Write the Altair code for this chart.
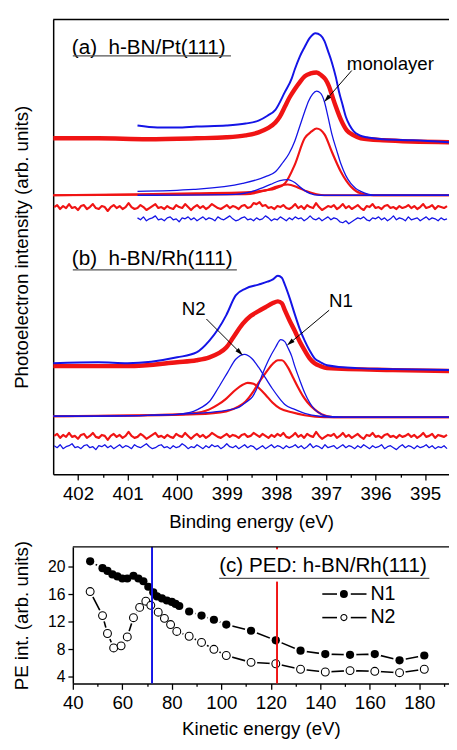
import altair as alt
import pandas as pd

FONT = "Liberation Sans"
RED = "#f01414"
BLUE = "#1414e6"

# ================= (a) h-BN/Pt(111) : binding energy (eV) / intensity (arb.) =================
a_blue_raw_be = [400.80, 400.40, 400.00, 399.61, 399.01, 398.62, 398.36, 398.18, 398.02, 397.83,
                 397.69, 397.63, 397.53, 397.43, 397.33, 397.21, 397.11, 397.03, 396.96, 396.88,
                 396.80, 396.74, 396.66, 396.60, 396.52, 396.44, 396.32, 396.18, 395.85, 395.25, 394.52]
a_blue_raw_i = [355, 353, 353, 354, 355, 357, 360, 365, 371, 389,
                403, 412, 425, 435, 444, 449, 447, 441, 431, 419,
                404, 390, 375, 364, 355, 349, 345, 343, 341, 340, 338]

a_red_raw_be = [402.50, 401.59, 400.60, 399.61, 399.01, 398.62, 398.36, 398.18, 398.02, 397.93,
                397.83, 397.73, 397.63, 397.53, 397.43, 397.31, 397.19, 397.09, 397.01, 396.94,
                396.88, 396.80, 396.70, 396.58, 396.44, 396.30, 395.85, 394.52]
a_red_raw_i = [342, 342, 341, 342, 343, 345, 348, 352, 358, 364,
               374, 384, 392, 399, 405, 408, 409, 406, 402, 395,
               386, 374, 361, 350, 345, 342, 340, 338]

a_fit_blue_main_be = [400.80, 399.67, 398.68, 398.22, 398.02, 397.89, 397.75, 397.63, 397.53, 397.43,
                      397.35, 397.27, 397.19, 397.11, 397.03, 396.96, 396.88, 396.78, 396.70, 396.60,
                      396.50, 396.40, 396.30, 396.14, 395.95, 394.52]
a_fit_blue_main_i = [288, 290, 296, 303, 308, 316, 326, 339, 354, 369,
                     380, 387, 390, 388, 379, 364, 346, 329, 316, 304,
                     296, 291, 288, 285, 284, 284]

a_fit_blue_small_be = [400.80, 398.82, 398.42, 398.12, 397.93, 397.77, 397.63, 397.49, 397.33, 397.13, 394.52]
a_fit_blue_small_i = [284, 285, 289, 295, 299, 300, 297, 291, 286, 284, 284]

a_fit_red_main_be = [402.50, 400.80, 399.61, 398.62, 398.22, 398.02, 397.83, 397.63, 397.43, 397.29,
                     397.19, 397.03, 396.88, 396.70, 396.50, 396.30, 396.04, 394.52]
a_fit_red_main_i = [284, 285, 286, 287, 289, 291, 296, 315, 342, 349,
                    352, 346, 328, 308, 293, 286, 284, 284]

a_fit_red_small_be = [402.50, 398.62, 398.22, 397.97, 397.77, 397.57, 397.39, 397.19, 397.03, 394.52]
a_fit_red_small_i = [284, 285, 289, 293, 295, 292, 288, 285, 284, 284]

# residuals: sampled every 0.06 eV from the given start energy
RES_STEP = 0.06
a_res_red_start = 402.48
a_res_red_i = [272, 274, 270, 273, 271, 275, 271, 272, 269, 273, 274, 270, 272, 275, 271, 270, 273, 272, 268, 272,
               274, 271, 273, 270, 272, 276, 272, 270, 271, 274, 272, 269, 271, 273, 275, 271, 272, 270, 273, 271,
               270, 274, 272, 271, 275, 272, 269, 272, 274, 271, 273, 270, 272, 275, 273, 271, 270, 272, 274, 271,
               273, 272, 270, 273, 274, 271, 272, 276, 275, 277, 273, 274, 271, 272, 270, 273, 272, 274, 271, 270,
               272, 275, 271, 273, 270, 274, 272, 271, 276, 272, 269, 271, 273, 272, 274, 270, 272, 275, 271, 273,
               270, 272, 274, 271, 269, 273, 272, 275, 271, 272, 270, 273, 274, 271, 272, 270, 273, 271, 272, 274,
               271, 273, 270, 272, 275, 271, 272, 274, 270, 273, 272, 271, 273]
a_res_blue_start = 400.80
a_res_blue_i = [261, 259, 262, 258, 260, 261, 263, 259, 260, 258, 261, 262, 259, 260, 257, 261, 260, 262, 259, 261,
                258, 260, 262, 259, 261, 260, 258, 262, 260, 259, 261, 263, 260, 258, 259, 261, 262, 259, 260, 258,
                261, 259, 260, 263, 261, 258, 260, 259, 262, 260, 258, 261, 259, 262, 260, 261, 258, 260, 263, 260,
                259, 261, 258, 260, 262, 259, 261, 260, 257, 256, 258, 255, 257, 259, 261, 260, 262, 259, 258, 261,
                260, 262, 259, 261, 258, 260, 263, 259, 261, 260, 258, 262, 259, 260, 261, 258, 260, 262, 259, 261,
                260, 258, 261, 259, 260]

# ================= (b) h-BN/Rh(111) =================
b_blue_raw_be = [402.50, 401.59, 401.00, 400.00, 399.61, 399.35, 399.17, 399.01, 398.82, 398.62,
                 398.36, 398.18, 398.08, 397.97, 397.89, 397.83, 397.73, 397.63, 397.53, 397.43,
                 397.33, 397.23, 397.11, 396.98, 396.38, 395.65, 394.52]
b_blue_raw_i = [113, 114, 113, 119, 124, 136, 148, 162, 182, 189,
                193, 196, 198, 202, 200, 193, 179, 163, 148, 136,
                126, 118, 114, 111, 108, 107, 106]

b_red_raw_be = [402.50, 401.00, 400.00, 399.61, 399.35, 399.17, 399.01, 398.86, 398.68, 398.52,
                398.36, 398.22, 398.08, 397.97, 397.89, 397.83, 397.73, 397.63, 397.53, 397.43,
                397.33, 397.23, 397.11, 396.98, 395.65, 394.52]
b_red_raw_i = [110, 110, 114, 116, 119, 123, 129, 140, 153, 161,
               166, 170, 174, 176, 174, 167, 156, 146, 135, 126,
               118, 113, 110, 108, 106, 105]

b_fit_blue_n2_be = [402.50, 400.60, 400.00, 399.67, 399.51, 399.35, 399.17, 398.98, 398.82, 398.64,
                    398.50, 398.36, 398.22, 398.08, 397.95, 397.83, 397.63, 397.43, 397.13, 396.74, 394.52]
b_fit_blue_n2_i = [59, 60, 61, 64, 68, 74, 88, 104, 117, 122,
                   118, 109, 98, 87, 78, 71, 66, 62, 59, 58, 58]

b_fit_blue_n1_be = [402.50, 400.60, 399.61, 399.01, 398.76, 398.62, 398.48, 398.36, 398.28, 398.16,
                    398.02, 397.91, 397.83, 397.77, 397.69, 397.63, 397.53, 397.43, 397.33, 397.23,
                    397.09, 396.98, 396.64, 394.52]
b_fit_blue_n1_i = [59, 60, 62, 65, 68, 73, 79, 91, 102, 116,
                   129, 137, 135, 129, 120, 110, 96, 83, 73, 66,
                   61, 59, 58, 58]

b_fit_red_n2_be = [402.50, 400.60, 399.71, 399.35, 399.17, 399.01, 398.82, 398.68, 398.58, 398.46,
                   398.36, 398.22, 398.08, 397.93, 397.69, 397.43, 397.03, 394.52]
b_fit_red_n2_i = [59, 60, 62, 66, 71, 77, 86, 91, 93, 92,
                  88, 81, 73, 67, 63, 60, 58, 58]

b_fit_red_n1_be = [402.50, 400.60, 399.61, 399.01, 398.76, 398.62, 398.48, 398.36, 398.22, 398.08,
                   397.97, 397.89, 397.77, 397.67, 397.57, 397.47, 397.37, 397.23, 397.09, 396.84, 394.52]
b_fit_red_n1_i = [59, 60, 61, 64, 69, 74, 83, 93, 103, 112,
                  116, 116, 109, 99, 89, 80, 73, 66, 61, 58, 58]

b_res_red_start = 402.48
b_res_red_i = [39, 41, 37, 40, 38, 42, 38, 39, 36, 40, 41, 37, 39, 42, 38, 37, 40, 39, 35, 39,
               41, 38, 40, 37, 39, 43, 39, 37, 38, 41, 39, 36, 38, 40, 42, 38, 39, 37, 40, 38,
               37, 41, 39, 38, 42, 39, 36, 39, 41, 38, 40, 37, 39, 42, 40, 38, 37, 39, 41, 38,
               40, 39, 37, 40, 41, 38, 39, 42, 40, 38, 41, 39, 37, 40, 38, 41, 39, 42, 38, 37,
               39, 42, 38, 40, 37, 41, 39, 38, 43, 39, 36, 38, 40, 39, 41, 37, 39, 42, 38, 40,
               37, 39, 41, 38, 36, 40, 39, 42, 38, 39, 37, 40, 41, 38, 39, 37, 40, 38, 39, 41,
               38, 40, 37, 39, 42, 38, 39, 41, 37, 40, 39, 38, 40]
b_res_blue_start = 402.48
b_res_blue_i = [29, 27, 30, 26, 28, 29, 31, 27, 28, 26, 29, 30, 27, 28, 25, 29, 28, 30, 27, 29,
                26, 28, 30, 27, 29, 28, 26, 30, 28, 27, 29, 31, 28, 26, 27, 29, 30, 27, 28, 26,
                29, 27, 28, 31, 29, 26, 28, 27, 30, 28, 26, 29, 27, 30, 28, 29, 26, 28, 31, 28,
                27, 29, 26, 28, 30, 27, 29, 28, 25, 27, 29, 26, 28, 30, 27, 29, 28, 26, 29, 27,
                28, 30, 27, 29, 26, 28, 31, 27, 29, 28, 26, 30, 27, 28, 29, 26, 28, 30, 27, 29,
                28, 26, 29, 27, 30, 28, 26, 29, 27, 28, 30, 26, 28, 29, 27, 25, 28, 30, 27, 29,
                28, 26, 29, 27, 28, 30, 27, 29, 26, 28, 27, 29, 26]

# ================= (c) PED: h-BN/Rh(111) =================
ke_n1 = [47, 52, 54, 56, 58, 60, 62, 64.5, 66.5, 68.5, 70.5, 72.5, 74, 76, 78, 80, 81.5, 83,
         87, 92, 97, 102, 112, 122, 132, 142, 152, 162, 172, 182]
pe_n1 = [20.8, 19.8, 19.4, 18.9, 18.6, 18.3, 18.3, 18.7, 18.3, 17.9, 17.1, 16.3, 15.7, 15.4, 15.1,
         14.9, 14.6, 14.3, 13.5, 12.9, 12.3, 11.6, 10.7, 9.3, 7.8, 7.3, 7.2, 7.3, 6.4, 7.1]
ke_n2 = [47, 52, 54, 56.5, 59.5, 62, 64.5, 67, 69.5, 71.5, 74.5, 77, 79.5, 82,
         87, 92, 97, 102, 112, 122, 132, 142, 152, 162, 172, 182]
pe_n2 = [16.4, 12.9, 10.3, 8.2, 8.5, 9.8, 12.6, 14.1, 15.0, 14.4, 13.4, 12.5, 11.6, 10.6,
         9.9, 9.0, 8.0, 7.1, 6.1, 5.9, 5.1, 4.7, 4.9, 4.8, 4.6, 5.1]
ke_lines = [72, 122.5]

# ---------------- layout (one plot area holding both panels) ----------------
W = 403            # full plot-area width
H = 676            # from top of panel (a/b) to x-axis of panel (c)
TOP_H = 463        # height of spectra panel
BOT_Y0 = 537       # top of PED panel
BOT_X0 = 20        # left of PED panel
SP = "\u00a0\u00a0"

# ---------------- spectra panel ----------------
BE_LO, BE_HI = 394.52, 402.5
xs1 = alt.Scale(domain=[BE_LO, BE_HI], range=[0, W], reverse=True, nice=False, zero=False)
ys1 = alt.Scale(domain=[0, 463], range=[TOP_H, 0], nice=False, zero=False)
ax_x1 = alt.Axis(title="Binding energy (eV)", orient="bottom", offset=TOP_H - H,
                 values=[395 + 0.5 * k for k in range(15)],
                 labelExpr="datum.value % 1 === 0 ? format(datum.value, 'd') : ''",
                 tickSize={"condition": {"test": "datum.value % 1 !== 0", "value": 3}, "value": 6},
                 labelOverlap=False, labelFlush=False, grid=False, labelFontSize=19, titleFontSize=19,
                 labelPadding=5, titlePadding=9, domainWidth=1.5, tickWidth=1.3)
ax_y1 = alt.Axis(title="Photoelectron intensity (arb. units)", orient="left", ticks=False, labels=False,
                 grid=False, domainWidth=1.5, titleFontSize=19, titlePadding=22)
X1 = alt.X("be:Q", scale=xs1, axis=ax_x1)
Y1 = alt.Y("i:Q", scale=ys1, axis=ax_y1)


def curve(be, inten, color, width, interp="monotone"):
    df = pd.DataFrame({"be": be, "i": inten})
    return alt.Chart(df).mark_line(color=color, strokeWidth=width, interpolate=interp,
                                   clip=True, strokeJoin="round").encode(x=X1, y=Y1)


def resid(start, vals, color, width):
    be = [round(start - RES_STEP * k, 3) for k in range(len(vals))]
    return curve(be, vals, color, width, interp="linear")


one = pd.DataFrame({"k": [0]})


def label(text, x, y, size, align="left"):
    return alt.Chart(pd.DataFrame({"t": [text]})).mark_text(
        align=align, baseline="middle", fontSize=size, font=FONT, color="black"
    ).encode(x=alt.value(x), y=alt.value(y), text="t:N")


def seg(x1, y1, x2, y2, color="black", width=1.0):
    return alt.Chart(one).mark_rule(color=color, strokeWidth=width).encode(
        x=alt.value(x1), y=alt.value(y1), x2=alt.value(x2), y2=alt.value(y2))


def head(x, y, angle):
    return alt.Chart(one).mark_point(shape="M0,-1L0.55,1L-0.55,1Z", filled=True, color="black",
                                     size=70, angle=angle, opacity=1).encode(x=alt.value(x), y=alt.value(y))


top_layers = [
    resid(a_res_red_start, a_res_red_i, RED, 2.2),
    resid(a_res_blue_start, a_res_blue_i, BLUE, 1.3),
    resid(b_res_red_start, b_res_red_i, RED, 2.2),
    resid(b_res_blue_start, b_res_blue_i, BLUE, 1.3),
    curve(a_fit_red_main_be, a_fit_red_main_i, RED, 2.2),
    curve(a_fit_red_small_be, a_fit_red_small_i, RED, 2.2),
    curve(a_fit_blue_main_be, a_fit_blue_main_i, BLUE, 1.3),
    curve(a_fit_blue_small_be, a_fit_blue_small_i, BLUE, 1.3),
    curve(b_fit_red_n2_be, b_fit_red_n2_i, RED, 2.2),
    curve(b_fit_red_n1_be, b_fit_red_n1_i, RED, 2.2),
    curve(b_fit_blue_n2_be, b_fit_blue_n2_i, BLUE, 1.3),
    curve(b_fit_blue_n1_be, b_fit_blue_n1_i, BLUE, 1.3),
    curve(a_red_raw_be, a_red_raw_i, RED, 4.5),
    curve(a_blue_raw_be, a_blue_raw_i, BLUE, 2.0),
    curve(b_red_raw_be, b_red_raw_i, RED, 4.5),
    curve(b_blue_raw_be, b_blue_raw_i, BLUE, 2.0),
    seg(0, 0, W, 0, width=1.5),
    label("(a)" + SP + "h-BN/Pt(111)", 19, 29, 21),
    seg(20, 37, 181, 37, color="#555555", width=1.2),
    label("(b)" + SP + "h-BN/Rh(111)", 19, 244, 21),
    seg(20, 255, 187, 255, color="#555555", width=1.2),
    label("monolayer", 299, 45, 19),
    seg(304, 52, 278.6, 81),
    head(278.6, 81, 221),
    label("N2", 143, 295, 19, align="center"),
    seg(156, 305, 190.2, 339.2),
    head(190.2, 339.2, 135),
    label("N1", 293, 287, 19, align="center"),
    seg(281, 296, 241.1, 329.4),
    head(241.1, 329.4, 230),
]
top = alt.layer(*top_layers)

# ---------------- PED panel ----------------
KE_LO, KE_HI = 40, 191.98
PE_LO, PE_HI = 3.04, 22.9
xs2 = alt.Scale(domain=[KE_LO, KE_HI], range=[BOT_X0, W], nice=False, zero=False)
ys2 = alt.Scale(domain=[PE_LO, PE_HI], range=[H, BOT_Y0], nice=False, zero=False)
ax_x2 = alt.Axis(title="Kinetic energy (eV)", orient="bottom", offset=0, values=list(range(40, 191, 10)),
                 labelExpr="datum.value % 20 === 0 ? format(datum.value, 'd') : ''",
                 tickSize={"condition": {"test": "datum.value % 20 !== 0", "value": 3}, "value": 6},
                 labelOverlap=False, labelFlush=False, grid=False, labelFontSize=19, titleFontSize=19,
                 labelPadding=5, titlePadding=7, domainWidth=1.5, tickWidth=1.3)
ax_y2 = alt.Axis(title="PE int. (arb. units)", orient="left", offset=-BOT_X0, values=[4, 8, 12, 16, 20],
                 format="d", grid=False, labelFontSize=16, titleFontSize=19, tickSize=5, labelPadding=3,
                 titlePadding=16, domainWidth=1.5, tickWidth=1.3, labelFlush=False)
X2 = alt.X("ke:Q", scale=xs2, axis=ax_x2)
Y2 = alt.Y("pe:Q", scale=ys2, axis=ax_y2)

n1 = pd.DataFrame({"ke": ke_n1, "pe": pe_n1})
n2 = pd.DataFrame({"ke": ke_n2, "pe": pe_n2})

line_n1 = alt.Chart(n1).mark_line(color="black", strokeWidth=1.6).encode(x=X2, y=Y2)
line_n2 = alt.Chart(n2).mark_line(color="black", strokeWidth=1.6).encode(x=X2, y=Y2)
halo_n1 = alt.Chart(n1).mark_point(shape="circle", filled=True, color="white", size=170, opacity=1).encode(x=X2, y=Y2)
halo_n2 = alt.Chart(n2).mark_point(shape="circle", filled=True, color="white", size=160, opacity=1).encode(x=X2, y=Y2)
pts_n2 = alt.Chart(n2).mark_point(shape="circle", filled=True, fill="white", stroke="black",
                                  strokeWidth=1.1, size=64, opacity=1).encode(x=X2, y=Y2)
pts_n1 = alt.Chart(n1).mark_point(shape="circle", filled=True, color="black", size=70, opacity=1).encode(x=X2, y=Y2)

blue_rule = alt.Chart(pd.DataFrame({"ke": [ke_lines[0]], "pe": [PE_LO], "pe2": [PE_HI]})).mark_rule(
    color=BLUE, strokeWidth=2).encode(x=X2, y=Y2, y2="pe2:Q")
red_rule = alt.Chart(pd.DataFrame({"ke": [ke_lines[1], ke_lines[1]], "pe": [PE_LO, 22.55],
                                   "pe2": [17.85, PE_HI]})).mark_rule(
    color=RED, strokeWidth=2).encode(x=X2, y=Y2, y2="pe2:Q")


def leg_point(x, y, filled):
    if filled:
        m = alt.Chart(one).mark_point(shape="circle", filled=True, color="black", size=66, opacity=1)
    else:
        m = alt.Chart(one).mark_point(shape="circle", filled=True, fill="white", stroke="black",
                                      strokeWidth=1.1, size=38, opacity=1)
    return m.encode(x=alt.value(x), y=alt.value(y))


bx, by = BOT_X0, BOT_Y0
bottom_layers = [
    line_n1, line_n2, halo_n1, halo_n2, pts_n2, pts_n1, blue_rule, red_rule,
    seg(bx, by, W, by, width=1.5),
    label("(c) PED: h-BN/Rh(111)", bx + 149, by + 20, 21),
    seg(bx + 149, by + 32, bx + 363, by + 32, color="#555555", width=1.2),
    seg(bx + 254, by + 48, bx + 269, by + 48, width=1.6), seg(bx + 283, by + 48, bx + 299, by + 48, width=1.6),
    leg_point(bx + 276, by + 48, True),
    label("N1", bx + 303, by + 48, 20),
    seg(bx + 254, by + 72, bx + 269, by + 72, width=1.6), seg(bx + 283, by + 72, bx + 299, by + 72, width=1.6),
    leg_point(bx + 276, by + 72, False),
    label("N2", bx + 303, by + 72, 20),
]
bottom = alt.layer(*bottom_layers)

chart = alt.layer(top, bottom).resolve_scale(x="independent", y="independent").properties(
    width=W, height=H,
    autosize=alt.AutoSizeParams(type="none"),
    padding={"left": 46, "top": 5, "right": 0, "bottom": 53},
).configure_view(stroke=None).configure_axis(
    labelFont=FONT, titleFont=FONT, labelColor="black", titleColor="black",
    domainColor="black", tickColor="black", titleFontWeight="normal"
)

chart.save("out.html", embed_options={"renderer": "svg", "actions": False})
